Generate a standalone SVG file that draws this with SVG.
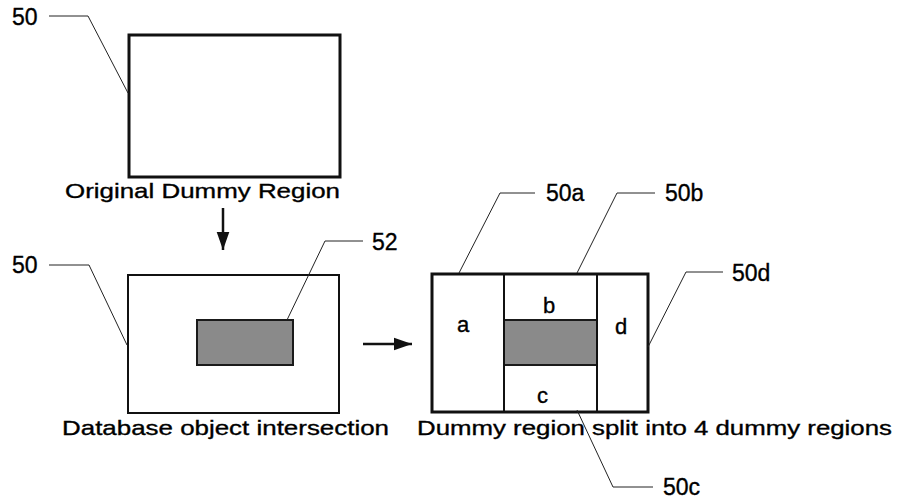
<svg xmlns="http://www.w3.org/2000/svg" width="897" height="502" viewBox="0 0 897 502">
<style>
  text { font-family: "Liberation Sans", Arial, sans-serif; fill: #000; stroke: #000; stroke-width: 0.35; }
  .lbl { font-size: 23px; }
  .cap { font-size: 21px; }
  .let { font-size: 22px; }
  .lead { fill: none; stroke: #222; stroke-width: 1; }
  .thick { fill: #fff; stroke: #111; stroke-width: 3; }
  .thin { fill: #fff; stroke: #111; stroke-width: 2; }
  .inner { fill: none; stroke: #111; stroke-width: 2; }
  .obj { fill: #8a8a8a; stroke: #1a1a1a; stroke-width: 2; }
  .arr { fill: none; stroke: #111; stroke-width: 2.5; }
</style>
<defs>
  <marker id="ahd" viewBox="0 0 20 14" refX="20" refY="7" markerWidth="18" markerHeight="14" markerUnits="userSpaceOnUse" orient="auto">
    <path d="M0,0 L20,7 L0,14 z" fill="#111"/>
  </marker>
</defs>
<rect width="897" height="502" fill="#fff"/>

<g id="original-region">
  <rect class="thick" x="129" y="35" width="211" height="142"/>
  <text class="cap" x="65" y="198" textLength="275" lengthAdjust="spacingAndGlyphs">Original Dummy Region</text>
</g>

<g id="intersection-region">
  <rect class="thin" x="128" y="275" width="211" height="138"/>
  <rect id="obj52" class="obj" x="197" y="320" width="96" height="45"/>
  <text class="cap" x="62" y="435" textLength="327" lengthAdjust="spacingAndGlyphs">Database object intersection</text>
</g>

<g id="split-region">
  <rect class="thick" x="432" y="274" width="216" height="138"/>
  <rect class="obj" x="504" y="320" width="93" height="45"/>
  <line class="inner" x1="504" y1="274" x2="504" y2="412"/>
  <line class="inner" x1="597" y1="274" x2="597" y2="412"/>
  <text class="let" x="457" y="332">a</text>
  <text class="let" x="543" y="313">b</text>
  <text class="let" x="537" y="403">c</text>
  <text class="let" x="615" y="334">d</text>
  <text class="cap" x="417" y="435" textLength="475" lengthAdjust="spacingAndGlyphs">Dummy region split into 4 dummy regions</text>
</g>

<g id="labels">
  <text class="lbl" x="12" y="25">50</text>
  <text class="lbl" x="12" y="273">50</text>
  <text class="lbl" x="372" y="250">52</text>
  <text class="lbl" x="546" y="201">50a</text>
  <text class="lbl" x="665" y="201">50b</text>
  <text class="lbl" x="732" y="281">50d</text>
  <text class="lbl" x="663" y="495">50c</text>
</g>

<g id="connectors">
  <polyline class="lead" points="49,16 88,16 128,93"/>
  <polyline class="lead" points="49,265 89,265 127,345"/>
  <polyline class="lead" points="363,241 325,241 287,320"/>
  <polyline class="lead" points="535,193 500,193 459,273"/>
  <polyline class="lead" points="655,193 617,193 577,273"/>
  <polyline class="lead" points="723,272 686,272 648,347"/>
  <polyline class="lead" points="577,410 613,487 653,487"/>
  <line class="arr" x1="223" y1="208" x2="223" y2="250" marker-end="url(#ahd)"/>
  <line class="arr" x1="363" y1="344" x2="412" y2="344" marker-end="url(#ahd)"/>
</g>
</svg>
